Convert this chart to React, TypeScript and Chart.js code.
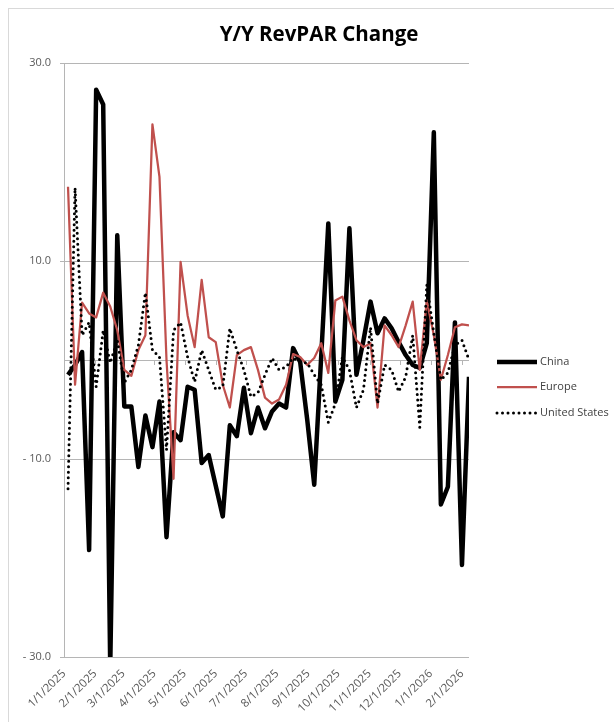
import { useEffect, useRef } from "react";
import { Chart, registerables } from "chart.js";

Chart.register(...registerables);

// Week dates (x categories)
const WEEKS = [
  "2025-01-05", "2025-01-12", "2025-01-19", "2025-01-26",
  "2025-02-02", "2025-02-09", "2025-02-16", "2025-02-23",
  "2025-03-02", "2025-03-09", "2025-03-16", "2025-03-23", "2025-03-30",
  "2025-04-06", "2025-04-13", "2025-04-20", "2025-04-27",
  "2025-05-04", "2025-05-11", "2025-05-18", "2025-05-25",
  "2025-06-01", "2025-06-08", "2025-06-15", "2025-06-22", "2025-06-29",
  "2025-07-06", "2025-07-13", "2025-07-20", "2025-07-27",
  "2025-08-03", "2025-08-10", "2025-08-17", "2025-08-24", "2025-08-31",
  "2025-09-07", "2025-09-14", "2025-09-21", "2025-09-28",
  "2025-10-05", "2025-10-12", "2025-10-19", "2025-10-26",
  "2025-11-02", "2025-11-09", "2025-11-16", "2025-11-23", "2025-11-30",
  "2025-12-07", "2025-12-14", "2025-12-21", "2025-12-28",
  "2026-01-04", "2026-01-11", "2026-01-18", "2026-01-25",
  "2026-02-01", "2026-02-08",
];

const MONTH_LABELS = [
  "1/1/2025", "2/1/2025", "3/1/2025", "4/1/2025", "5/1/2025", "6/1/2025",
  "7/1/2025", "8/1/2025", "9/1/2025", "10/1/2025", "11/1/2025", "12/1/2025",
  "1/1/2026", "2/1/2026",
];

const Y_TICKS = [-30, -10, 10, 30];

const CHINA = [
  -1.5, -0.5, 0.8, -19.2, 27.3, 25.8, -31, 12.6, -4.7, -4.7,
  -10.8, -5.6, -8.8, -4.2, -17.9, -7.3, -8.1, -2.7, -3, -10.4,
  -9.6, -12.7, -15.8, -6.6, -7.7, -2.8, -7.4, -4.8, -6.9, -5.2,
  -4.4, -4.8, 1.2, -0.2, -6, -12.6, 0.5, 13.8, -4.2, -2,
  13.3, -1.5, 2, 5.9, 2.7, 4.2, 3.2, 1.8, 0.5, -0.5,
  -0.8, 1.7, 23, -14.6, -12.8, 3.8, -20.7, -1.7,
];

const EUROPE = [
  17.5, -2.5, 5.8, 4.7, 4.3, 6.8, 5.4, 3, -1, -1.6,
  1, 2.5, 23.8, 18.5, 0, -12, 9.9, 4.5, 1.3, 8.1,
  2.3, 1.8, -2.5, -4.8, 0.5, 1, 1.3, -1, -3.8, -4.4,
  -4, -2.5, 0.6, 0.3, -0.5, 0.2, 1.7, -1.3, 6, 6.4,
  4, 2, 1.3, 1.7, -4.8, 3.5, 2.5, 1.3, 3.5, 5.9,
  -1, 6, 2.5, -2, 0.5, 3.3, 3.6, 3.5,
];

const UNITED_STATES = [
  -13, 17.4, 2.5, 3.8, -2.7, 3, -0.3, 2, -2.3, -1,
  1.5, 6.8, 1, 0.3, -9.1, 3, 3.8, 0.3, -2.2, 1,
  -1, -3, -2.7, 3.2, 1, -1, -3.7, -3.3, -1.5, 0.2,
  -1, -0.7, 0.2, -0.2, -0.3, -1.5, -2.5, -6.3, -4.4, 0.3,
  -1, -4.8, -3, 3.3, -4.4, -0.5, -1, -3.2, -1.7, 2.5,
  -6.8, 7.6, 2.7, -2, -1.3, 1.5, 2, 0,
];

const DAY_MS = 86400000;
const ORIGIN = Date.UTC(2025, 0, 1);
const isoDay = (iso: string) => {
  const [y, m, d] = iso.split("-").map(Number);
  return (Date.UTC(y, m - 1, d) - ORIGIN) / DAY_MS;
};
const usDay = (s: string) => {
  const [m, d, y] = s.split("/").map(Number);
  return (Date.UTC(y, m - 1, d) - ORIGIN) / DAY_MS;
};
const MONTH_TICKS = MONTH_LABELS.map(usDay);

const GRID = "#b5b5b5";
const LABEL = "#595959";
const FONT = "'Open Sans', 'Noto Sans', sans-serif";

export default function App() {
  const ref = useRef<HTMLCanvasElement | null>(null);

  useEffect(() => {
    document.documentElement.style.overflow = "hidden";
    document.body.style.overflow = "hidden";
    if (!ref.current) return;

    const toPts = (arr: number[]) => WEEKS.map((w, i) => ({ x: isoDay(w), y: arr[i] }));

    const decor = {
      id: "decor",
      beforeDatasetsDraw(chart: any) {
        const { ctx, chartArea, scales } = chart;
        const y0 = scales.y.getPixelForValue(0);
        ctx.save();
        ctx.strokeStyle = GRID;
        ctx.lineWidth = 1;
        ctx.beginPath();
        ctx.moveTo(chartArea.left, Math.round(y0) + 0.5);
        ctx.lineTo(chartArea.right, Math.round(y0) + 0.5);
        MONTH_TICKS.forEach((v) => {
          const px = Math.round(scales.x.getPixelForValue(v)) + 0.5;
          ctx.moveTo(px, y0);
          ctx.lineTo(px, y0 + 5);
        });
        ctx.stroke();
        ctx.restore();
      },
      afterDraw(chart: any) {
        const { ctx, chartArea } = chart;
        const x0 = chartArea.right + 28;
        const rows = [299, 324, 350];
        ctx.save();
        chart.data.datasets.forEach((ds: any, i: number) => {
          const yy = chartArea.top + rows[i];
          ctx.beginPath();
          ctx.strokeStyle = ds.borderColor;
          ctx.lineWidth = ds.borderWidth;
          ctx.lineCap = ds.borderCapStyle || "butt";
          ctx.setLineDash(ds.borderDash || []);
          ctx.moveTo(x0, yy);
          ctx.lineTo(x0 + 40, yy);
          ctx.stroke();
          ctx.setLineDash([]);
          ctx.fillStyle = "#404040";
          ctx.font = `11px ${FONT}`;
          ctx.textBaseline = "middle";
          ctx.textAlign = "left";
          ctx.fillText(ds.label, x0 + 43, yy);
        });
        ctx.restore();
      },
    };

    const chart = new Chart(ref.current, {
      type: "line",
      data: {
        datasets: [
          {
            label: "China",
            data: toPts(CHINA),
            borderColor: "#000000",
            borderWidth: 4.5,
            pointRadius: 0,
            tension: 0,
            borderJoinStyle: "round",
            order: 2,
          },
          {
            label: "Europe",
            data: toPts(EUROPE),
            borderColor: "#C0504D",
            borderWidth: 2.25,
            pointRadius: 0,
            tension: 0,
            borderJoinStyle: "round",
            order: 1,
          },
          {
            label: "United States",
            data: toPts(UNITED_STATES),
            borderColor: "#000000",
            borderWidth: 3,
            borderDash: [0, 5.5],
            borderCapStyle: "round",
            pointRadius: 0,
            tension: 0,
            order: 0,
          },
        ],
      } as any,
      options: {
        animation: false,
        responsive: true,
        maintainAspectRatio: false,
        layout: { padding: 0 },
        plugins: {
          legend: { display: false },
          tooltip: { enabled: false },
          title: {
            display: true,
            text: "Y/Y RevPAR Change",
            color: "#000000",
            font: { family: FONT, size: 20.5, weight: "bold" },
            padding: { top: 13.5, bottom: 15.9 },
          },
        },
        scales: {
          x: {
            type: "linear",
            min: 0,
            max: isoDay(WEEKS[WEEKS.length - 1]),
            afterBuildTicks: (s: any) => {
              s.ticks = MONTH_TICKS.map((v) => ({ value: v }));
            },
            afterFit: (s: any) => {
              s.height = 66;
            },
            grid: { display: false, drawTicks: false },
            border: { display: false },
            ticks: {
              autoSkip: false,
              maxRotation: 45,
              minRotation: 45,
              padding: 10,
              color: LABEL,
              font: { family: FONT, size: 11.5 },
              callback: (v: any) => {
                const idx = MONTH_TICKS.indexOf(Number(v));
                return idx >= 0 ? MONTH_LABELS[idx] : "";
              },
            },
          },
          y: {
            type: "linear",
            min: -30,
            max: 30,
            afterBuildTicks: (s: any) => {
              s.ticks = Y_TICKS.map((v) => ({ value: v }));
            },
            afterFit: (s: any) => {
              s.width = 55;
            },
            grid: { color: GRID, tickLength: 4, drawTicks: true },
            border: { display: true, color: GRID },
            ticks: {
              padding: 9,
              color: LABEL,
              font: { family: FONT, size: 11 },
              callback: (v: any) => {
                const n = Number(v);
                return n < 0 ? `- ${Math.abs(n).toFixed(1)}` : n.toFixed(1);
              },
            },
          },
          legendSpace: {
            type: "linear",
            position: "right",
            display: true,
            afterFit: (s: any) => {
              s.width = 160;
            },
            grid: { display: false, drawTicks: false },
            border: { display: false },
            ticks: { display: false },
          },
        },
      } as any,
      plugins: [decor],
    });

    return () => chart.destroy();
  }, []);

  return (
    <div
      style={{
        position: "absolute",
        left: 8,
        top: 8,
        width: 620,
        height: 714,
        border: "1px solid #d9d9d9",
        background: "#ffffff",
      }}
    >
      <canvas ref={ref} />
    </div>
  );
}
